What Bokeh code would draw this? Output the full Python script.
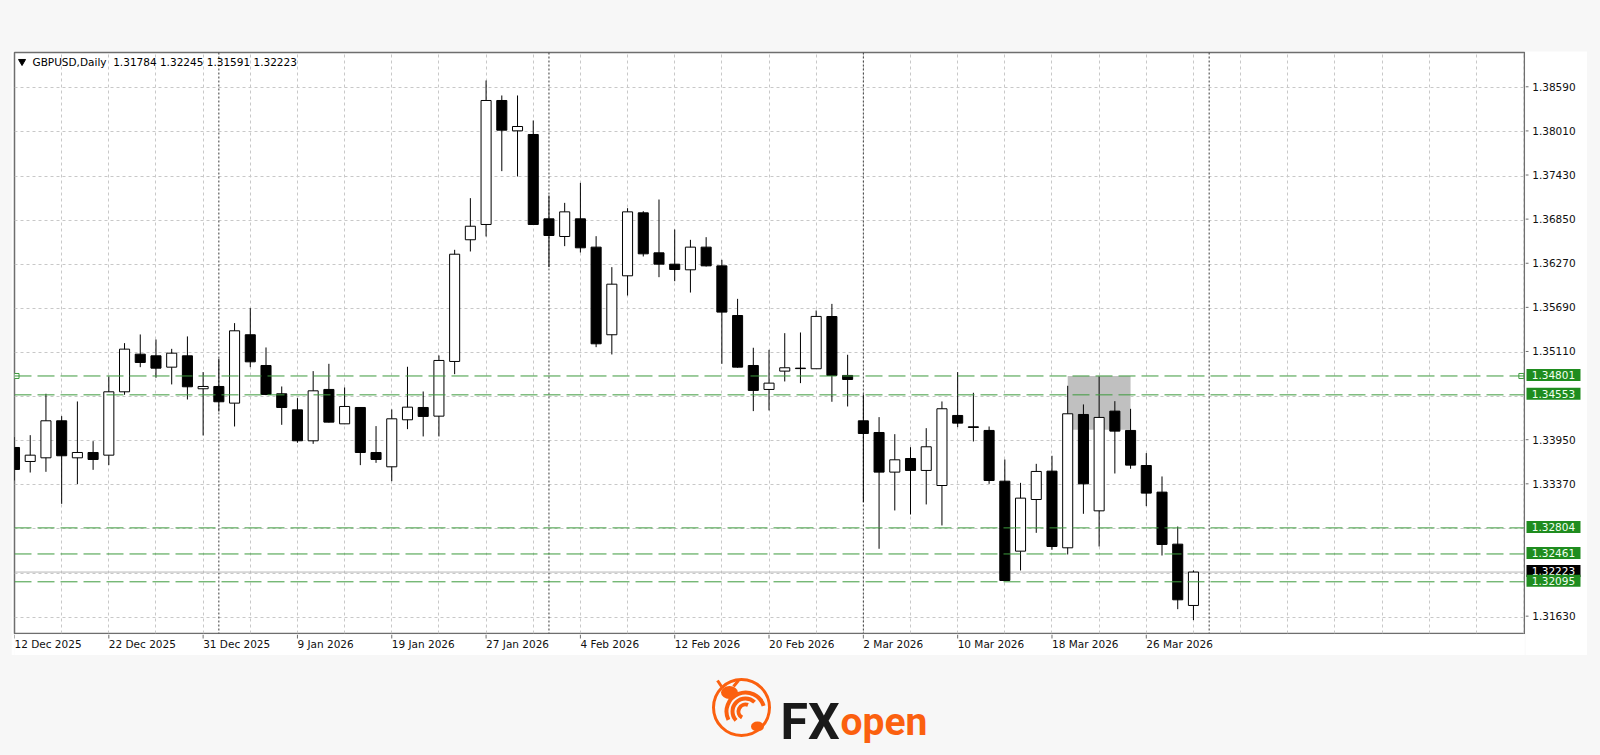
from bokeh.plotting import figure
from bokeh.models import Range1d, FixedTicker, Span, Label, Grid, Spacer, ColumnDataSource
from bokeh.layouts import column, row
from bokeh.core.properties import value
from bokeh.embed import file_html
from bokeh.resources import INLINE

# ---------------- data ----------------
symbol = "GBPUSD,Daily"
tick_bars = [0, 6, 12, 18, 24, 30, 36, 42, 48, 54, 60, 66, 72]
tick_labels = ["12 Dec 2025", "22 Dec 2025", "31 Dec 2025", "9 Jan 2026", "19 Jan 2026",
               "27 Jan 2026", "4 Feb 2026", "12 Feb 2026", "20 Feb 2026", "2 Mar 2026",
               "10 Mar 2026", "18 Mar 2026", "26 Mar 2026"]
month_start_bars = [13, 34, 54, 76]
grid_bars = [0, 3, 6, 9, 12, 15, 18, 21, 24, 27, 30, 33, 36, 39, 42, 45, 48, 51, 54, 57,
             60, 63, 66, 69, 72, 75, 78, 81, 84, 87, 90, 93, 96]
price_grid = [1.3163, 1.3221, 1.3279, 1.3337, 1.3395, 1.3453, 1.3511, 1.3569, 1.3627,
              1.3685, 1.3743, 1.3801, 1.3859]
price_labels = [1.3163, 1.3337, 1.3395, 1.3511, 1.3569, 1.3627, 1.3685, 1.3743, 1.3801, 1.3859]

opens = [1.33861, 1.33677, 1.33725, 1.34212, 1.33725, 1.33795, 1.33760, 1.34593, 1.35088, 1.35066,
         1.34917, 1.35066, 1.34633, 1.34663, 1.34444, 1.35343, 1.34939, 1.34567, 1.34356, 1.33949,
         1.34624, 1.34172, 1.34387, 1.33795, 1.33607, 1.34225, 1.34387, 1.34273, 1.34992, 1.36592,
         1.36793, 1.38423, 1.38024, 1.37976, 1.36867, 1.36635, 1.36867, 1.36495, 1.35343, 1.36118,
         1.36946, 1.36420, 1.36271, 1.36197, 1.36495, 1.36249, 1.35596, 1.34939, 1.34624, 1.34865,
         1.34904, 1.34896, 1.35583, 1.34808, 1.34212, 1.34058, 1.33537, 1.33716, 1.33559, 1.33361,
         1.34282, 1.34133, 1.34085, 1.33418, 1.32498, 1.33177, 1.33550, 1.32542, 1.34295, 1.33028,
         1.34339, 1.34085, 1.33624, 1.33274, 1.32590, 1.31784]
highs = [1.33997, 1.34023, 1.34567, 1.34273, 1.34466, 1.33944, 1.34795, 1.35233, 1.35347, 1.35281,
         1.35158, 1.35321, 1.34852, 1.35027, 1.35496, 1.35693, 1.35176, 1.34663, 1.34510, 1.34865,
         1.34961, 1.34650, 1.34391, 1.34142, 1.34361, 1.34922, 1.34597, 1.35071, 1.36460, 1.37139,
         1.38686, 1.38489, 1.38489, 1.38160, 1.37174, 1.37077, 1.37340, 1.36639, 1.36232, 1.37007,
         1.36968, 1.37121, 1.36727, 1.36591, 1.36626, 1.36328, 1.35815, 1.35172, 1.35145, 1.35364,
         1.35373, 1.35662, 1.35749, 1.35080, 1.34558, 1.34260, 1.34036, 1.33865, 1.34115, 1.34466,
         1.34852, 1.34580, 1.34137, 1.33703, 1.33396, 1.33646, 1.33752, 1.34672, 1.34427, 1.34795,
         1.34470, 1.34369, 1.33787, 1.33480, 1.32822, 1.32245]
lows = [1.33427, 1.33532, 1.33541, 1.33120, 1.33379, 1.33567, 1.33629, 1.34554, 1.34917, 1.34777,
        1.34690, 1.34492, 1.34019, 1.34334, 1.34137, 1.34917, 1.34549, 1.34159, 1.33923, 1.33909,
        1.34190, 1.34168, 1.33629, 1.33659, 1.33418, 1.34102, 1.34006, 1.34006, 1.34825, 1.36438,
        1.36635, 1.37494, 1.37424, 1.36788, 1.36232, 1.36508, 1.36424, 1.35180, 1.35084, 1.35859,
        1.36372, 1.36100, 1.36047, 1.35898, 1.36240, 1.34961, 1.34910, 1.34339, 1.34348, 1.34729,
        1.34707, 1.34896, 1.34462, 1.34400, 1.33142, 1.32529, 1.33033, 1.32980, 1.33112, 1.32836,
        1.34128, 1.33940, 1.33383, 1.32104, 1.32244, 1.32739, 1.32516, 1.32454, 1.32989, 1.32559,
        1.33519, 1.33581, 1.33090, 1.32441, 1.31735, 1.31591]
closes = [1.33572, 1.33760, 1.34212, 1.33752, 1.33795, 1.33703, 1.34593, 1.35154, 1.34979, 1.34904,
          1.35101, 1.34659, 1.34663, 1.34462, 1.35395, 1.34987, 1.34558, 1.34387, 1.33949, 1.34606,
          1.34194, 1.34400, 1.33795, 1.33703, 1.34238, 1.34391, 1.34269, 1.35005, 1.36402, 1.36770,
          1.38423, 1.38033, 1.38081, 1.36793, 1.36648, 1.36959, 1.36486, 1.35224, 1.36008, 1.36959,
          1.36407, 1.36271, 1.36201, 1.36495, 1.36249, 1.35641, 1.34917, 1.34611, 1.34707, 1.34909,
          1.34898, 1.35584, 1.34808, 1.34755, 1.34045, 1.33537, 1.33699, 1.33559, 1.33870, 1.34370,
          1.34181, 1.34124, 1.33427, 1.32112, 1.33195, 1.33546, 1.32559, 1.34304, 1.33383, 1.34256,
          1.34076, 1.33629, 1.33261, 1.32586, 1.31858, 1.32223]

level_prices = [1.34801, 1.34553, 1.32804, 1.32461, 1.32095]
anchored_level = 1.34801
zone_bars = [67, 71]
zone_prices = [1.34093, 1.34801]

# ---------------- styles ----------------
FONT = "DejaVu Sans"
FS = "10.5px"
GREEN_LINE = "#3d9a3d"
GREEN_BOX = "#1f8c1f"
FRAME = "#6e6e6e"
ORANGE = "#fb600f"
PAGE_BG = "#f7f7f7"
PX_PER_UNIT = 7606.0           # vertical price scale of the chart

X_END = 96.06
Y_HI = 1.39054
Y_LO = Y_HI - 581 / PX_PER_UNIT

bars = list(range(len(opens)))
src = ColumnDataSource(dict(
    x=bars, open=opens, high=highs, low=lows, close=closes,
    top=[max(o, c) for o, c in zip(opens, closes)],
    bottom=[min(o, c) for o, c in zip(opens, closes)],
    fill=["white" if c >= o else "black" for o, c in zip(opens, closes)],
))

# ---------------- main price panel ----------------
p = figure(width=1514, height=583, output_backend="svg", toolbar_location=None, tools="",
           x_range=Range1d(0, X_END), y_range=Range1d(Y_LO, Y_HI),
           x_axis_location=None, y_axis_location=None,
           min_border_left=3, min_border_right=1, min_border_top=1, min_border_bottom=1,
           background_fill_color="white", border_fill_color="white")
p.outline_line_color = FRAME
p.outline_line_width = 1.5
for g in p.grid:
    g.visible = False
p.add_layout(Grid(dimension=0, ticker=FixedTicker(ticks=grid_bars), grid_line_color="#c8c8c8",
                  grid_line_dash="3 3", grid_line_width=1))
p.add_layout(Grid(dimension=1, ticker=FixedTicker(ticks=price_grid), grid_line_color="#c8c8c8",
                  grid_line_dash="3 3", grid_line_width=1))

for b in month_start_bars:
    p.add_layout(Span(location=b, dimension="height", line_color="#3a3a3a",
                      line_dash="2 2", line_width=1, level="underlay"))
p.add_layout(Span(location=closes[-1], dimension="width", line_color="#b8b8b8",
                  line_width=1, level="underlay"))

p.quad(left=[zone_bars[0]], right=[zone_bars[1]], bottom=[zone_prices[0]], top=[zone_prices[1]],
       fill_color="#c0c0c0", line_color=None)

p.segment(x0="x", y0="low", x1="x", y1="high", source=src, line_color="black", line_width=1)
p.vbar(x="x", width=0.64, top="top", bottom="bottom", source=src,
       fill_color="fill", line_color="black", line_width=1)

for lv in level_prices:
    p.add_layout(Span(location=lv, dimension="width", line_color=GREEN_LINE,
                      line_dash="17 6", line_width=1))
p.scatter(x=[0.13, X_END - 0.2], y=[anchored_level, anchored_level], marker="square", size=5,
          fill_color="white", line_color=GREEN_LINE, line_width=1)

header_y = Y_HI - 9 / PX_PER_UNIT
p.scatter(x=[0.48], y=[header_y], marker="inverted_triangle", size=7, color="black")
header = f"{symbol}\u00a0 {opens[-1]:.5f} {highs[-1]:.5f} {lows[-1]:.5f} {closes[-1]:.5f}"
p.add_layout(Label(x=1.145, y=header_y, text=header, text_baseline="middle", text_align="left",
                   text_font=FONT, text_font_size=FS, text_color="black"))

# ---------------- time scale (below) ----------------
pb = figure(width=1514, height=21, output_backend="svg", toolbar_location=None, tools="",
            x_range=p.x_range, y_range=Range1d(21, 0),
            x_axis_location=None, y_axis_location=None,
            min_border_left=3, min_border_right=1, min_border_top=0, min_border_bottom=0,
            background_fill_color="white", border_fill_color="white")
pb.outline_line_color = None
pb.grid.visible = False
pb.segment(x0=tick_bars, y0=[0] * len(tick_bars), x1=tick_bars, y1=[4] * len(tick_bars),
           line_color=FRAME, line_width=1)
pb.text(x=tick_bars, y=[9.5] * len(tick_bars), text=tick_labels, text_align="left",
        text_baseline="middle", text_font=value(FONT), text_font_size=FS, text_color="#101010")

# ---------------- price scale (right) ----------------
side = figure(width=62, height=604, output_backend="svg", toolbar_location=None, tools="",
              x_range=Range1d(0, 62), y_range=Range1d(Y_HI - 604 / PX_PER_UNIT, Y_HI),
              x_axis_location=None, y_axis_location=None, min_border=0,
              background_fill_color="white", border_fill_color="white")
side.outline_line_color = None
side.grid.visible = False
side.segment(x0=[0] * len(price_labels), y0=price_labels, x1=[3] * len(price_labels),
             y1=price_labels, line_color=FRAME, line_width=1)
side.text(x=[6.7] * len(price_labels), y=price_labels, text=[f"{v:.5f}" for v in price_labels],
          text_align="left", text_baseline="middle", text_font=value(FONT), text_font_size=FS,
          text_color="#101010")
side.rect(x=[28], y=[closes[-1]], width=54, height=12, height_units="screen",
          fill_color="black", line_color=None)
side.text(x=[6.2], y=[closes[-1]], text=[f"{closes[-1]:.5f}"], text_align="left",
          text_baseline="middle", text_font=value(FONT), text_font_size=FS, text_color="white")
side.rect(x=[28] * len(level_prices), y=level_prices, width=54, height=12, height_units="screen",
          fill_color=GREEN_BOX, line_color=None)
side.text(x=[6.2] * len(level_prices), y=level_prices, text=[f"{v:.5f}" for v in level_prices],
          text_align="left", text_baseline="middle", text_font=value(FONT), text_font_size=FS,
          text_color="#f0fff0")

# ---------------- logo ----------------
lg = figure(width=1600, height=100, output_backend="svg", toolbar_location=None, tools="",
            x_range=Range1d(0, 1600), y_range=Range1d(100, 0), min_border=0,
            x_axis_location=None, y_axis_location=None,
            background_fill_color=PAGE_BG, border_fill_color=PAGE_BG)
lg.outline_line_color = None
lg.grid.visible = False
lg.circle(x=[741], y=[52], radius=28, fill_color=None, line_color=ORANGE, line_width=3)
lg.arc(x=[745, 745, 745], y=[56, 56, 56], radius=[19, 13, 7], start_angle=[0.3, 0.8, 1.2],
       end_angle=[3.6, 3.9, 4.2], line_color=ORANGE, line_width=4)
lg.ellipse(x=[729], y=[37], width=17, height=13, fill_color=ORANGE, line_color=None)
lg.ellipse(x=[757], y=[71], width=13, height=10, fill_color=ORANGE, line_color=None)
lg.segment(x0=[721, 733], y0=[31, 31], x1=[717, 738], y1=[25, 25], line_color=ORANGE, line_width=3)
lg.text(x=[780], y=[66], text=["FX"], text_font=value("Roboto"), text_font_style="bold",
        text_font_size="50px", text_color="#1a1a1a", text_baseline="alphabetic")
lg.text(x=[840], y=[66], text=["open"], text_font=value("Roboto"), text_font_style="bold",
        text_font_size="39px", text_color=ORANGE, text_baseline="alphabetic")

layout = column(Spacer(height=51),
                row(Spacer(width=11), column(p, pb), side),
                lg)
html = file_html(layout, INLINE)
html = html.replace("<head>", "<head><style>body{background:#f7f7f7;}</style>", 1)
open("out.html", "w").write(html)
